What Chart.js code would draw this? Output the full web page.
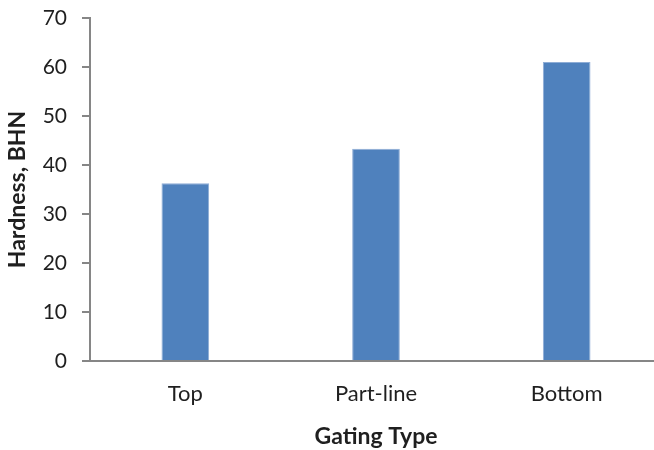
<!DOCTYPE html>
<html>
<head>
<meta charset="utf-8">
<script src="https://cdn.jsdelivr.net/npm/chart.js@4/dist/chart.umd.min.js"></script>
<style>
  html, body { margin: 0; padding: 0; background: #ffffff; overflow: hidden; }
  #wrap { width: 662px; height: 450px; }
</style>
</head>
<body>
<div id="wrap"><canvas id="chart" width="662" height="450"></canvas></div>
<script>
// Hardness by gating type
const categories = ['Top', 'Part-line', 'Bottom'];
const hardness = [36.3, 43.3, 61.0];
const yTicks = [0, 10, 20, 30, 40, 50, 60, 70];

const axisGrey = '#868686';
const textColor = '#1f1f1f';
const fontFamily = 'Lato, "Liberation Sans", sans-serif';

new Chart(document.getElementById('chart'), {
  type: 'bar',
  data: {
    labels: categories,
    datasets: [{
      label: 'Hardness, BHN',
      data: hardness,
      backgroundColor: '#4F81BD',
      borderColor: '#8EADD6',
      borderWidth: 1,
      barPercentage: 0.25,
      categoryPercentage: 1.0
    }]
  },
  options: {
    responsive: false,
    animation: false,
    layout: { padding: { top: 18, right: 0, left: 0, bottom: 0 } },
    plugins: {
      legend: { display: false },
      tooltip: { enabled: false }
    },
    scales: {
      x: {
        grid: { display: false, drawTicks: false },
        border: { display: true, color: axisGrey, width: 2 },
        ticks: {
          color: textColor,
          font: { family: fontFamily, size: 22 },
          padding: 20
        },
        title: {
          display: true,
          text: 'Gating Type',
          color: textColor,
          font: { family: fontFamily, size: 23, weight: 'bold' },
          padding: { top: 6, bottom: 0 }
        },
        afterFit(scale) { scale.height = 89; }
      },
      y: {
        min: 0,
        max: 70,
        afterBuildTicks(scale) { scale.ticks = yTicks.map(v => ({ value: v })); },
        grid: {
          display: true,
          drawOnChartArea: false,
          drawTicks: true,
          tickLength: 8,
          color: axisGrey,
          lineWidth: 2
        },
        border: { display: true, color: axisGrey, width: 2 },
        ticks: {
          color: textColor,
          font: { family: fontFamily, size: 21 },
          padding: 15
        },
        title: {
          display: true,
          text: 'Hardness, BHN',
          color: textColor,
          font: { family: fontFamily, size: 23, weight: 'bold' },
          padding: { top: 4, bottom: 0 }
        },
        afterFit(scale) {
          scale.width = 90;
          // the plot area edges come from the layout padding alone
          scale.paddingTop = 0;
          scale.paddingBottom = 0;
        }
      }
    }
  }
});
</script>
</body>
</html>
